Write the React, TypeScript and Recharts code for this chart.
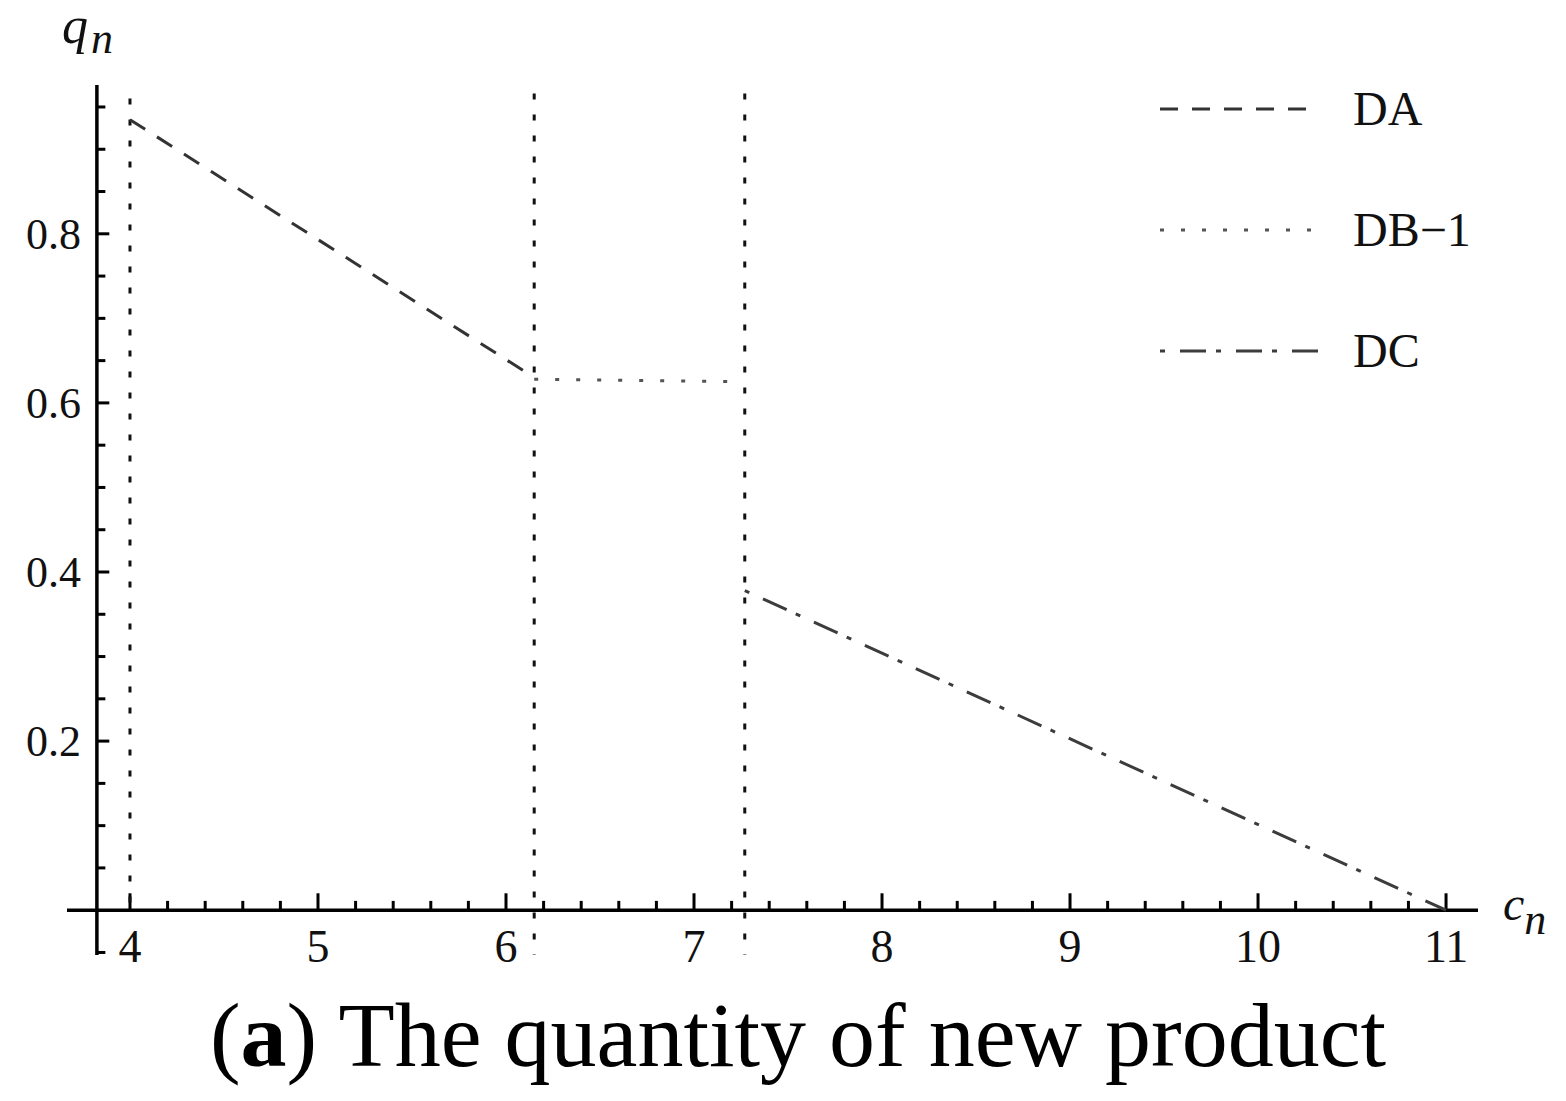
import React from 'react';
import { LineChart, Line, XAxis, YAxis, ReferenceLine } from 'recharts';

// values
const xLabelTicks = [4, 5, 6, 7, 8, 9, 10, 11];
const yLabelTicks = [0.2, 0.4, 0.6, 0.8];
const xMinorTicks = [
  4.2, 4.4, 4.6, 4.8, 5.2, 5.4, 5.6, 5.8, 6.2, 6.4, 6.6, 6.8, 7.2, 7.4, 7.6, 7.8,
  8.2, 8.4, 8.6, 8.8, 9.2, 9.4, 9.6, 9.8, 10.2, 10.4, 10.6, 10.8,
];
const yMinorTicks = [-0.05, 0.05, 0.1, 0.15, 0.25, 0.3, 0.35, 0.45, 0.5, 0.55, 0.65, 0.7, 0.75, 0.85, 0.9, 0.95];

const daPoints = [
  { x: 4, y: 0.935 },
  { x: 6.15, y: 0.63 },
];
const db1Points = [
  { x: 6.15, y: 0.628 },
  { x: 7.25, y: 0.625 },
];
const dcPoints = [
  { x: 7.27, y: 0.378 },
  { x: 11, y: 0 },
];
const boundaryX = [4, 6.15, 7.27];
const boundaryFrom = [0, -0.053, -0.053];
const boundaryTo = [0.96, 0.966, 0.966];

const X_DOMAIN: [number, number] = [3.665, 11.17];
const Y_DOMAIN: [number, number] = [-0.053, 0.976];
const Y_AXIS_AT = 3.824;

const serif = '"Liberation Serif", "Times New Roman", serif';

const seriesStyles = [
  { key: 'DA', name: 'DA', color: '#333', dash: '18 14', width: 3 },
  { key: 'DB1', name: 'DB\u22121', color: '#555', dash: '4 17', width: 3 },
  { key: 'DC', name: 'DC', color: '#3c3c3c', dash: '5 15 26 10', width: 3 },
];

const XTick = (props: any) => {
  const { x, y, payload } = props;
  return (
    <text x={x} y={y - 1} textAnchor="middle" fontSize={46} fontFamily={serif} fill="#111">
      {payload.value}
    </text>
  );
};

const YTick = (props: any) => {
  const { x, y, payload } = props;
  return (
    <text x={x + 22} y={y + 15} textAnchor="end" fontSize={44} fontFamily={serif} fill="#111">
      {payload.value}
    </text>
  );
};

const LegendBox = () => (
  <div style={{ position: 'absolute', left: 1160, top: 48, fontFamily: serif, fontSize: 48, color: '#111' }}>
    {seriesStyles.map((s) => (
      <div key={s.key} style={{ display: 'flex', alignItems: 'center', height: 121 }}>
        <svg width={160} height={10} style={{ marginRight: 33 }}>
          <line x1={0} y1={5} x2={160} y2={5} stroke={s.color} strokeWidth={s.width} strokeDasharray={s.dash} />
        </svg>
        <span>{s.name}</span>
      </div>
    ))}
  </div>
);

export default function App() {
  return (
    <div style={{ position: 'absolute', left: 0, top: 0, width: 1566, height: 1101, background: '#fff' }}>
      <LineChart
        width={1566}
        height={1000}
        margin={{ top: 85, right: 88, bottom: 15, left: 7 }}
      >
        <XAxis
          type="number"
          dataKey="x"
          domain={X_DOMAIN}
          allowDataOverflow
          ticks={xLabelTicks}
          interval={0}
          height={30}
          axisLine={false}
          tickLine={false}
          tick={<XTick />}
        />
        <YAxis
          type="number"
          domain={Y_DOMAIN}
          allowDataOverflow
          ticks={yLabelTicks}
          interval={0}
          width={60}
          axisLine={false}
          tickLine={false}
          tick={<YTick />}
        />

        {/* axes through the origin */}
        <ReferenceLine segment={[{ x: X_DOMAIN[0], y: 0 }, { x: X_DOMAIN[1], y: 0 }]} stroke="#000" strokeWidth={3.5} ifOverflow="visible" />
        <ReferenceLine segment={[{ x: Y_AXIS_AT, y: Y_DOMAIN[0] }, { x: Y_AXIS_AT, y: Y_DOMAIN[1] }]} stroke="#000" strokeWidth={3.5} ifOverflow="visible" />
        {xLabelTicks.map((t) => (
          <ReferenceLine key={`xM${t}`} segment={[{ x: t, y: 0 }, { x: t, y: 0.02 }]} stroke="#000" strokeWidth={3} ifOverflow="visible" />
        ))}
        {xMinorTicks.map((t) => (
          <ReferenceLine key={`xm${t}`} segment={[{ x: t, y: 0 }, { x: t, y: 0.011 }]} stroke="#000" strokeWidth={3} ifOverflow="visible" />
        ))}
        {yLabelTicks.map((t) => (
          <ReferenceLine key={`yM${t}`} segment={[{ x: Y_AXIS_AT, y: t }, { x: Y_AXIS_AT + 0.066, y: t }]} stroke="#000" strokeWidth={3} ifOverflow="visible" />
        ))}
        {yMinorTicks.map((t) => (
          <ReferenceLine key={`ym${t}`} segment={[{ x: Y_AXIS_AT, y: t }, { x: Y_AXIS_AT + 0.045, y: t }]} stroke="#000" strokeWidth={3} ifOverflow="visible" />
        ))}

        {/* regime boundaries, drawn top-down so the dots start at the top */}
        {boundaryX.map((b, i) => (
          <ReferenceLine
            key={`b${b}`}
            segment={[{ x: b, y: boundaryTo[i] }, { x: b, y: boundaryFrom[i] }]}
            stroke="#111"
            strokeWidth={3}
            strokeDasharray="6 15"
            ifOverflow="visible"
          />
        ))}

        <Line data={daPoints} dataKey="y" name="DA" type="linear" stroke={seriesStyles[0].color} strokeWidth={3} strokeDasharray={seriesStyles[0].dash} dot={false} isAnimationActive={false} />
        <Line data={db1Points} dataKey="y" name="DB-1" type="linear" stroke={seriesStyles[1].color} strokeWidth={3} strokeDasharray={seriesStyles[1].dash} dot={false} isAnimationActive={false} />
        <Line data={dcPoints} dataKey="y" name="DC" type="linear" stroke={seriesStyles[2].color} strokeWidth={3} strokeDasharray={seriesStyles[2].dash} dot={false} isAnimationActive={false} />
      </LineChart>

      <LegendBox />

      <div style={{ position: 'absolute', left: 62, top: 0, fontFamily: serif, fontStyle: 'italic', fontSize: 52, color: '#111', lineHeight: 1 }}>
        q<span style={{ fontSize: 44, position: 'relative', top: 10, marginLeft: 3 }}>n</span>
      </div>
      <div style={{ position: 'absolute', left: 1503, top: 880, fontFamily: serif, fontStyle: 'italic', fontSize: 48, color: '#111', lineHeight: 1 }}>
        c<span style={{ fontSize: 44, position: 'relative', top: 14 }}>n</span>
      </div>

      <div style={{ position: 'absolute', left: 0, top: 989, width: 1596, textAlign: 'center', fontFamily: serif, fontSize: 92, lineHeight: 1, color: '#000' }}>
        (<b>a</b>) The quantity of new product
      </div>
    </div>
  );
}
